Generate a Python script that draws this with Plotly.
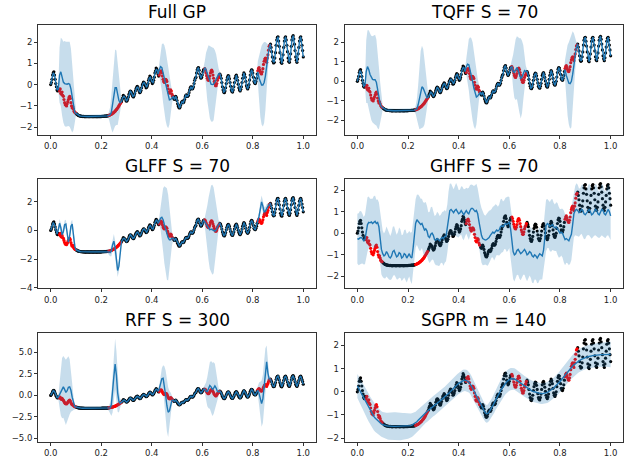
import plotly.graph_objects as go

# ---------------- x grid (0 .. 1, step 0.005) ----------------
X = [round(i * 0.005, 3) for i in range(201)]
# second set of observations, located half-way between grid points
X2 = [round(i * 0.005 + 0.0025, 4) for i in range(200)]

# ---------------- observations, split in segments ----------------
SEG_KIND = ["train", "test", "train", "test", "train", "test",
            "train", "test", "train", "test", "train"]

OBS_A = [0.00, 0.25, 0.55, 0.45, 0.05, -0.25, -0.20]
OBS_B = [-0.30, -0.40, -0.35, -0.55, -0.85, -0.95, -0.90, -0.70, -0.55, -0.85, -1.10, -1.15, -1.30]
OBS_C = [-1.35, -1.40, -1.45, -1.47, -1.48, -1.49, -1.49, -1.50, -1.50, -1.50, -1.50, -1.50, -1.50,
         -1.50, -1.50, -1.50, -1.50, -1.50, -1.50, -1.50, -1.50, -1.49, -1.49, -1.48, -1.48, -1.47]
OBS_D = [-1.45, -1.42, -1.40, -1.35, -1.30, -1.25, -1.18, -1.10, -1.00, -0.90]
OBS_E = [-0.80, -0.62, -0.55, -0.62, -0.78, -0.68, -0.45, -0.30, -0.38, -0.55,
         -0.52, -0.30, -0.15, -0.12, -0.30, -0.35, -0.15, 0.05, 0.10, -0.05,
         -0.12, 0.05, 0.30, 0.35, 0.15, 0.10, 0.35, 0.65, 0.72, 0.50]
OBS_F = [0.45, 0.62, 0.55, 0.25, 0.10, 0.25, 0.15, -0.20, -0.40, -0.25, -0.45]
OBS_G = [-0.55, -0.70, -0.55, -0.75, -1.00, -1.10, -0.95, -0.80, -0.85, -0.70,
         -0.50, -0.55, -0.50, -0.25, -0.10, -0.20, -0.10, 0.20, 0.35, 0.70,
         0.80, 0.50, 0.30, 0.45, 0.70]
OBS_H = [0.75, 0.55, 0.30, 0.20, 0.40, 0.65, 0.60, 0.30, 0.05, -0.05, 0.20, 0.35]
OBS_I = [0.50, 0.30, -0.10, -0.35, -0.30, 0.05, 0.35, 0.40, 0.10, -0.25,
         -0.35, -0.10, 0.30, 0.45, 0.20, -0.15, -0.30, -0.10, 0.30, 0.55,
         0.35, -0.05, -0.20, 0.00, 0.45, 0.70, 0.55, 0.15, 0.05, 0.30]
OBS_J = [0.65, 0.80, 0.60, 0.50, 0.75, 1.10, 1.25, 1.05, 1.40, 1.80]
OBS_K = [1.90, 1.55, 1.10, 1.05, 1.50, 2.10, 2.25, 1.80, 1.20, 1.00,
         1.40, 2.05, 2.25, 1.85, 1.25, 1.05, 1.45, 2.10, 2.30, 1.90,
         1.30, 1.05, 1.45, 2.05, 2.25, 1.85, 1.30]
OBS_SEGS = [OBS_A, OBS_B, OBS_C, OBS_D, OBS_E, OBS_F, OBS_G, OBS_H, OBS_I, OBS_J, OBS_K]

# second (interleaved) set of observations
OBS2_A = [0.10, 0.45, 0.60, 0.25, -0.10, -0.30, -0.22]
OBS2_B = [-0.20, -0.45, -0.50, -0.70, -0.95, -1.00, -0.80, -0.60, -0.65, -1.00, -1.05, -1.25, -1.32]
OBS2_C = [-1.38, -1.43, -1.46, -1.48, -1.49, -1.50, -1.50, -1.51, -1.50, -1.50, -1.51, -1.50, -1.50,
          -1.51, -1.50, -1.50, -1.51, -1.50, -1.50, -1.50, -1.49, -1.49, -1.48, -1.48, -1.47, -1.46]
OBS2_D = [-1.44, -1.41, -1.37, -1.33, -1.28, -1.21, -1.14, -1.05, -0.95, -0.85]
OBS2_E = [-0.70, -0.50, -0.58, -0.72, -0.75, -0.58, -0.35, -0.32, -0.48, -0.58,
          -0.42, -0.20, -0.08, -0.22, -0.38, -0.28, -0.02, 0.12, 0.02, -0.15,
          -0.05, 0.20, 0.40, 0.25, 0.05, 0.20, 0.55, 0.78, 0.62, 0.40]
OBS2_F = [0.58, 0.65, 0.40, 0.15, 0.18, 0.22, -0.05, -0.35, -0.35, -0.30, -0.55]
OBS2_G = [-0.65, -0.62, -0.62, -0.90, -1.08, -1.05, -0.85, -0.78, -0.80, -0.58,
          -0.48, -0.55, -0.38, -0.15, -0.12, -0.18, 0.05, 0.30, 0.55, 0.78,
          0.68, 0.38, 0.35, 0.60, 0.72]
OBS2_H = [0.68, 0.42, 0.22, 0.28, 0.55, 0.68, 0.45, 0.15, -0.05, 0.05, 0.30, 0.45]
OBS2_I = [0.42, 0.10, -0.25, -0.38, -0.15, 0.22, 0.42, 0.28, -0.08, -0.32,
          -0.25, 0.10, 0.40, 0.35, 0.02, -0.25, -0.22, 0.10, 0.45, 0.48,
          0.15, -0.15, -0.12, 0.22, 0.62, 0.68, 0.35, 0.08, 0.15, 0.50]
OBS2_J = [0.75, 0.70, 0.52, 0.60, 0.95, 1.20, 1.15, 1.25, 1.62, 1.85]
OBS2_K = [1.75, 1.30, 1.02, 1.25, 1.85, 2.22, 2.05, 1.50, 1.05, 1.15,
          1.75, 2.20, 2.10, 1.55, 1.10, 1.20, 1.80, 2.25, 2.15, 1.60,
          1.15, 1.20, 1.75, 2.20, 2.10, 1.60]
OBS2_SEGS = [OBS2_A, OBS2_B, OBS2_C, OBS2_D, OBS2_E, OBS2_F, OBS2_G, OBS2_H, OBS2_I, OBS2_J, OBS2_K]

# ---------------- Full GP ----------------
FULL_B = [0.45, 0.60, 0.35, 0.12, 0.05, 0.02, 0.02, 0.05, 0.02, -0.20, -0.65, -1.05, -1.30]
FULL_D = [-1.45, -1.42, -1.30, -0.95, -0.45, -0.15, -0.15, -0.45, -0.75, -0.85]
FULL_F = [0.70, 0.85, 0.80, 0.55, 0.25, -0.05, -0.35, -0.60, -0.72, -0.70, -0.60]
FULL_H = [0.80, 0.70, 0.50, 0.30, 0.12, 0.02, 0.00, 0.02, 0.12, 0.28, 0.42, 0.50]
FULL_J = [0.60, 0.30, 0.08, -0.02, -0.02, 0.10, 0.40, 0.85, 1.35, 1.75]
FULL_HW_TRAIN = 0.08
FULL_HW_B = [1.3, 1.6, 1.8, 1.9, 2.0, 2.0, 2.0, 2.0, 2.0, 1.9, 1.6, 1.1, 0.5]
FULL_HW_D = [0.15, 0.35, 0.8, 1.3, 1.65, 1.8, 1.75, 1.45, 0.95, 0.4]
FULL_HW_F = [0.3, 0.7, 1.1, 1.4, 1.6, 1.65, 1.6, 1.45, 1.15, 0.7, 0.3]
FULL_HW_H = [0.3, 0.8, 1.25, 1.55, 1.7, 1.75, 1.75, 1.7, 1.5, 1.15, 0.65, 0.25]
FULL_HW_J = [0.5, 1.1, 1.6, 1.85, 1.95, 1.9, 1.6, 1.1, 0.55, 0.2]

# ---------------- TQFF ----------------
TQ_B = [0.50, 0.75, 0.60, 0.35, 0.18, 0.10, 0.08, 0.08, -0.05, -0.40, -0.85, -1.15, -1.30]
TQ_D = [-1.45, -1.40, -1.20, -0.85, -0.45, -0.28, -0.35, -0.55, -0.75, -0.85]
TQ_F = [0.75, 0.88, 0.85, 0.60, 0.30, 0.00, -0.35, -0.65, -0.80, -0.75, -0.62]
TQ_H = [0.75, 0.50, 0.45, 0.60, 0.70, 0.55, 0.30, 0.15, 0.22, 0.45, 0.55, 0.50]
TQ_J = [0.60, 0.30, 0.05, -0.10, -0.12, 0.00, 0.35, 0.85, 1.35, 1.75]
TQ_HW_TRAIN = 0.10
TQ_HW_B = [1.6, 1.85, 2.0, 2.1, 2.15, 2.2, 2.25, 2.3, 2.2, 2.0, 1.6, 1.1, 0.5]
TQ_HW_D = [0.2, 0.5, 1.0, 1.6, 2.0, 2.1, 2.0, 1.65, 1.1, 0.5]
TQ_HW_F = [0.4, 0.9, 1.3, 1.65, 1.9, 2.0, 1.95, 1.8, 1.4, 0.9, 0.35]
TQ_HW_H = [0.35, 0.85, 1.3, 1.55, 1.6, 1.7, 1.9, 2.05, 1.85, 1.4, 0.8, 0.3]
TQ_HW_J = [0.5, 1.2, 1.8, 2.1, 2.3, 2.35, 2.2, 1.6, 0.8, 0.25]

# ---------------- GLFF ----------------
GL_A = [0.00, 0.30, 0.55, 0.40, 0.00, -0.25, 0.05]
GL_B = [0.50, 0.20, -0.30, -0.10, 0.40, 0.45, -0.20, -0.80, -0.40, 0.30, 0.45, -0.30, -1.10]
GL_D = [-1.50, -1.55, -1.45, -1.00, -0.75, -1.20, -2.10, -2.80, -2.50, -1.30]
GL_F = [0.65, 0.85, 0.92, 0.75, 0.40, 0.05, -0.25, -0.50, -0.65, -0.65, -0.55]
GL_H = [0.60, 0.45, 0.25, 0.10, 0.05, 0.10, 0.05, 0.00, -0.05, 0.05, 0.25, 0.40]
GL_J = [0.70, 1.00, 1.60, 2.00, 1.70, 1.30, 1.35, 1.60, 1.70, 1.80]
GL_HW_TRAIN = 0.12
GL_HW_B = [0.3, 0.3, 0.3, 0.3, 0.3, 0.3, 0.3, 0.3, 0.3, 0.3, 0.3, 0.25, 0.2]
GL_HW_D = [0.2, 0.25, 0.35, 0.45, 0.5, 0.5, 0.5, 0.45, 0.35, 0.2]
GL_HW_F = [0.3, 0.8, 1.5, 2.2, 2.7, 3.0, 3.2, 3.0, 2.3, 1.3, 0.5]
GL_HW_H = [0.3, 0.8, 1.5, 2.2, 2.75, 3.05, 3.15, 3.0, 2.5, 1.7, 0.9, 0.3]
GL_HW_J = [0.2, 0.3, 0.4, 0.45, 0.4, 0.35, 0.3, 0.25, 0.2, 0.15]

# ---------------- GHFF (full curves) ----------------
GH_MEAN = [
    -0.25, -0.28, -0.22, -0.20, -0.25, -0.35, -0.30, 0.05, 0.40, 0.50,
    0.48, 0.52, 0.45, 0.50, 0.55, 0.45, 0.50, 0.30, -0.20, -0.75,
    -0.95, -1.05, -1.00, -0.85, -0.95, -1.10, -1.15, -1.05, -0.85, -0.80,
    -0.95, -1.10, -1.05, -0.90, -0.95, -1.15, -1.10, -0.95, -1.00, -1.15,
    -1.05, -0.95, -1.10, -1.15, -0.70, -0.05, 0.45, 0.62, 0.55, 0.45,
    0.40, 0.45, 0.25, 0.15, 0.20, 0.10, -0.15, -0.20, -0.05, 0.00,
    -0.10, -0.30, -0.32, -0.25, -0.30, -0.35, -0.25, -0.20, -0.25, -0.15,
    -0.15, 0.20, 0.75, 1.05, 1.10, 1.00, 0.95, 1.05, 1.10, 1.00,
    0.90, 0.95, 1.05, 0.95, 0.85, 0.95, 1.05, 0.95, 0.90, 1.05,
    1.15, 1.15, 1.05, 1.00, 1.05, 0.90, 0.55, 0.20, -0.10, -0.25,
    -0.30, -0.32, -0.30, -0.25, -0.20, -0.10, 0.00, 0.05, 0.00, 0.10,
    0.15, 0.10, 0.15, 0.30, 0.35, 0.30, 0.40, 0.45, 0.40, 0.45,
    0.50, 0.20, -0.40, -0.85, -1.00, -0.95, -0.80, -0.75, -0.85, -0.95,
    -0.90, -0.80, -0.75, -0.85, -1.00, -0.95, -0.85, -0.90, -1.05, -1.10,
    -1.00, -1.05, -1.15, -1.05, -0.95, -1.00, -1.05, -0.80, -0.10, 0.35,
    0.45, 0.40, 0.30, 0.35, 0.40, 0.30, 0.25, 0.30, 0.20, 0.05,
    0.00, 0.05, 0.00, -0.15, -0.30, -0.25, -0.30, -0.35, -0.20, -0.05,
    0.40, 0.90, 1.05, 1.10, 1.05, 0.95, 1.00, 1.10, 1.05, 0.90,
    0.85, 0.95, 1.05, 1.10, 1.00, 0.85, 0.90, 1.00, 1.10, 1.05,
    0.90, 0.85, 0.95, 1.10, 1.05, 0.90, 0.85, 1.00, 1.10, 1.00,
    0.80]
GH_HW = [
    1.15, 1.20, 1.25, 1.22, 1.15, 1.10, 1.14, 1.22, 1.26, 1.20,
    1.12, 1.08, 1.14, 1.22, 1.18, 1.10, 1.06, 1.12, 1.20, 1.16,
    1.08, 1.04, 1.10, 1.16, 1.12, 1.05, 1.02, 1.08, 1.15, 1.12,
    1.06, 1.03, 1.09, 1.16, 1.12, 1.06, 1.04, 1.10, 1.17, 1.13,
    1.07, 1.05, 1.12, 1.20, 1.24, 1.18, 1.12, 1.16, 1.24, 1.26,
    1.20, 1.14, 1.18, 1.26, 1.24, 1.16, 1.12, 1.18, 1.25, 1.22,
    1.14, 1.10, 1.16, 1.24, 1.22, 1.15, 1.12, 1.18, 1.26, 1.22,
    1.15, 1.12, 1.18, 1.24, 1.20, 1.12, 1.08, 1.14, 1.22, 1.18,
    1.10, 1.06, 1.12, 1.20, 1.18, 1.10, 1.06, 1.12, 1.20, 1.18,
    1.10, 1.08, 1.14, 1.22, 1.24, 1.18, 1.14, 1.20, 1.27, 1.24,
    1.17, 1.13, 1.19, 1.26, 1.24, 1.16, 1.12, 1.18, 1.26, 1.24,
    1.16, 1.12, 1.18, 1.26, 1.24, 1.17, 1.13, 1.19, 1.27, 1.25,
    1.18, 1.14, 1.20, 1.27, 1.24, 1.17, 1.13, 1.19, 1.26, 1.23,
    1.16, 1.12, 1.18, 1.25, 1.22, 1.15, 1.11, 1.17, 1.24, 1.22,
    1.15, 1.11, 1.17, 1.24, 1.21, 1.14, 1.10, 1.15, 1.22, 1.20,
    1.13, 1.09, 1.14, 1.21, 1.18, 1.11, 1.08, 1.13, 1.20, 1.18,
    1.11, 1.08, 1.13, 1.20, 1.18, 1.12, 1.09, 1.14, 1.21, 1.19,
    1.12, 1.09, 1.14, 1.21, 1.19, 1.12, 1.08, 1.13, 1.20, 1.18,
    1.11, 1.08, 1.13, 1.20, 1.18, 1.11, 1.07, 1.12, 1.19, 1.17,
    1.10, 1.07, 1.12, 1.19, 1.17, 1.10, 1.07, 1.12, 1.19, 1.17,
    1.12]

# ---------------- RFF ----------------
RF_B = [0.10, 0.45, 0.85, 1.00, 0.70, 0.35, 0.55, 0.95, 1.00, 0.60, -0.20, -0.90, -1.30]
RF_D = [-1.50, -1.45, -1.10, 0.20, 2.20, 3.65, 2.40, 0.30, -0.70, -0.90]
RF_F = [0.80, 1.40, 1.95, 2.00, 1.20, 0.00, -1.20, -1.95, -1.80, -1.10, -0.55]
RF_H = [0.75, 0.50, 0.45, 0.80, 1.15, 1.00, 0.70, 0.85, 1.10, 0.85, 0.45, 0.40]
RF_J = [0.60, 0.20, -0.50, -0.95, -0.40, 1.00, 2.90, 3.90, 2.60, 1.90]
RF_HW_TRAIN = 0.20
RF_HW_B = [1.5, 2.8, 3.5, 3.6, 3.7, 3.8, 3.8, 3.6, 3.2, 2.5, 1.6, 0.8, 0.3]
RF_HW_D = [0.3, 0.6, 1.3, 2.2, 2.8, 2.95, 2.8, 2.2, 1.3, 0.5]
RF_HW_F = [0.4, 1.0, 1.2, 1.5, 2.2, 2.9, 3.0, 2.9, 2.3, 1.4, 0.5]
RF_HW_H = [0.4, 1.0, 1.7, 2.3, 2.7, 3.0, 3.1, 3.0, 2.6, 1.9, 1.0, 0.4]
RF_HW_J = [0.5, 1.3, 2.1, 2.7, 2.8, 2.7, 2.6, 1.9, 1.1, 0.4]

# ---------------- SGPR (full curves) ----------------
SG_MEAN = [
    0.25, 0.15, 0.05, -0.05, -0.15, -0.25, -0.36, -0.47, -0.58, -0.69,
    -0.80, -0.89, -0.98, -1.06, -1.13, -1.19, -1.25, -1.30, -1.35, -1.39,
    -1.42, -1.44, -1.46, -1.47, -1.48, -1.48, -1.49, -1.49, -1.49, -1.49,
    -1.49, -1.49, -1.49, -1.49, -1.49, -1.49, -1.49, -1.49, -1.49, -1.48,
    -1.48, -1.47, -1.46, -1.44, -1.41, -1.38, -1.34, -1.29, -1.23, -1.17,
    -1.11, -1.05, -0.99, -0.94, -0.89, -0.85, -0.80, -0.76, -0.71, -0.66,
    -0.62, -0.58, -0.54, -0.50, -0.46, -0.41, -0.36, -0.32, -0.27, -0.22,
    -0.17, -0.12, -0.07, -0.01, 0.05, 0.10, 0.16, 0.21, 0.26, 0.31,
    0.36, 0.40, 0.44, 0.47, 0.49, 0.50, 0.49, 0.46, 0.42, 0.35,
    0.26, 0.15, 0.04, -0.08, -0.19, -0.30, -0.41, -0.52, -0.63, -0.74,
    -0.84, -0.91, -0.95, -0.93, -0.87, -0.79, -0.70, -0.60, -0.49, -0.37,
    -0.26, -0.15, -0.05, 0.04, 0.13, 0.22, 0.30, 0.37, 0.43, 0.48,
    0.52, 0.55, 0.56, 0.56, 0.55, 0.52, 0.48, 0.44, 0.40, 0.35,
    0.31, 0.27, 0.23, 0.19, 0.15, 0.12, 0.09, 0.06, 0.03, 0.01,
    -0.01, -0.03, -0.05, -0.06, -0.07, -0.08, -0.08, -0.08, -0.07, -0.05,
    -0.03, 0.00, 0.04, 0.08, 0.12, 0.16, 0.21, 0.26, 0.31, 0.37,
    0.44, 0.51, 0.58, 0.65, 0.72, 0.79, 0.86, 0.93, 0.99, 1.05,
    1.11, 1.16, 1.21, 1.26, 1.30, 1.34, 1.37, 1.40, 1.43, 1.45,
    1.47, 1.49, 1.51, 1.53, 1.54, 1.55, 1.56, 1.57, 1.58, 1.58,
    1.59, 1.59, 1.60, 1.60, 1.60, 1.60, 1.61, 1.61, 1.61, 1.61,
    1.61]
SG_HW = [
    0.52, 0.53, 0.54, 0.55, 0.56, 0.57, 0.58, 0.59, 0.60, 0.60,
    0.60, 0.60, 0.60, 0.60, 0.59, 0.58, 0.57, 0.56, 0.55, 0.55,
    0.55, 0.55, 0.56, 0.57, 0.58, 0.59, 0.60, 0.60, 0.61, 0.61,
    0.61, 0.61, 0.61, 0.60, 0.60, 0.59, 0.58, 0.57, 0.56, 0.55,
    0.54, 0.53, 0.52, 0.51, 0.50, 0.49, 0.48, 0.48, 0.47, 0.47,
    0.46, 0.46, 0.45, 0.45, 0.45, 0.45, 0.44, 0.44, 0.44, 0.44,
    0.44, 0.44, 0.44, 0.44, 0.44, 0.44, 0.44, 0.44, 0.44, 0.44,
    0.44, 0.44, 0.44, 0.44, 0.44, 0.44, 0.45, 0.45, 0.45, 0.46,
    0.46, 0.46, 0.47, 0.47, 0.47, 0.47, 0.46, 0.46, 0.45, 0.44,
    0.43, 0.42, 0.41, 0.40, 0.40, 0.39, 0.39, 0.38, 0.38, 0.38,
    0.38, 0.38, 0.38, 0.38, 0.39, 0.39, 0.40, 0.41, 0.42, 0.43,
    0.44, 0.45, 0.46, 0.47, 0.47, 0.48, 0.48, 0.48, 0.48, 0.48,
    0.48, 0.48, 0.47, 0.47, 0.46, 0.46, 0.45, 0.45, 0.45, 0.45,
    0.45, 0.45, 0.45, 0.45, 0.45, 0.45, 0.45, 0.45, 0.45, 0.45,
    0.45, 0.45, 0.45, 0.45, 0.45, 0.45, 0.45, 0.45, 0.45, 0.45,
    0.45, 0.45, 0.45, 0.45, 0.45, 0.45, 0.45, 0.46, 0.46, 0.46,
    0.47, 0.47, 0.47, 0.48, 0.48, 0.48, 0.49, 0.49, 0.49, 0.50,
    0.50, 0.50, 0.50, 0.50, 0.50, 0.50, 0.50, 0.50, 0.50, 0.50,
    0.50, 0.50, 0.50, 0.50, 0.50, 0.50, 0.50, 0.50, 0.51, 0.51,
    0.51, 0.51, 0.52, 0.52, 0.52, 0.53, 0.53, 0.53, 0.54, 0.54,
    0.55]

# ---------------- titles / ticks ----------------
TITLES = ["Full GP", "TQFF S = 70", "GLFF S = 70", "GHFF S = 70", "RFF S = 300", "SGPR m = 140"]
X_TICKS = [0.0, 0.2, 0.4, 0.6, 0.8, 1.0]
X_TICK_LABELS = ["0.0", "0.2", "0.4", "0.6", "0.8", "1.0"]
Y_TICKS_STD = [-2, -1, 0, 1, 2]
Y_TICK_LABELS_STD = ["\u22122", "\u22121", "0", "1", "2"]
Y_TICKS_GL = [-4, -2, 0, 2]
Y_TICK_LABELS_GL = ["\u22124", "\u22122", "0", "2"]
Y_TICKS_RF = [-5.0, -2.5, 0.0, 2.5, 5.0]
Y_TICK_LABELS_RF = ["\u22125.0", "\u22122.5", "0.0", "2.5", "5.0"]


def cat(parts):
    out = []
    for p in parts:
        out.extend(p)
    return out


def build(test_parts, train_parts=None):
    """interleave train segments (observations) with the panel's test-region values"""
    parts = []
    ti = 0
    for k, seg in zip(SEG_KIND, OBS_SEGS):
        if k == "train":
            parts.append(seg if train_parts is None else train_parts(seg))
        else:
            parts.append(test_parts[ti])
            ti += 1
    return cat(parts)


def hw_build(const, test_parts):
    return build(test_parts, lambda seg: [const] * len(seg))


FULL_MEAN = build([FULL_B, FULL_D, FULL_F, FULL_H, FULL_J])
FULL_HW = hw_build(FULL_HW_TRAIN, [FULL_HW_B, FULL_HW_D, FULL_HW_F, FULL_HW_H, FULL_HW_J])
TQ_MEAN = build([TQ_B, TQ_D, TQ_F, TQ_H, TQ_J])
TQ_HW = hw_build(TQ_HW_TRAIN, [TQ_HW_B, TQ_HW_D, TQ_HW_F, TQ_HW_H, TQ_HW_J])
GL_MEAN = GL_A + build([GL_B, GL_D, GL_F, GL_H, GL_J])[len(GL_A):]
GL_HW = hw_build(GL_HW_TRAIN, [GL_HW_B, GL_HW_D, GL_HW_F, GL_HW_H, GL_HW_J])
RF_MEAN = build([RF_B, RF_D, RF_F, RF_H, RF_J])
RF_HW = hw_build(RF_HW_TRAIN, [RF_HW_B, RF_HW_D, RF_HW_F, RF_HW_H, RF_HW_J])

OBS_Y = cat(OBS_SEGS)
IS_TEST = cat([[k == "test"] * len(s) for k, s in zip(SEG_KIND, OBS_SEGS)])
OBS2_Y = cat(OBS2_SEGS)
IS_TEST2 = cat([[k == "test"] * len(s) for k, s in zip(SEG_KIND, OBS2_SEGS)])

for arr in (OBS_Y, FULL_MEAN, FULL_HW, TQ_MEAN, TQ_HW, GL_MEAN, GL_HW, GH_MEAN, GH_HW,
            RF_MEAN, RF_HW, SG_MEAN, SG_HW):
    assert len(arr) == len(X), len(arr)
assert len(OBS2_Y) == len(X2), len(OBS2_Y)

ALL_X = X + X2
ALL_Y = OBS_Y + OBS2_Y
ALL_T = IS_TEST + IS_TEST2
X_TR = [x for x, t in zip(ALL_X, ALL_T) if not t]
Y_TR = [y for y, t in zip(ALL_Y, ALL_T) if not t]
X_TE = [x for x, t in zip(ALL_X, ALL_T) if t]
Y_TE = [y for y, t in zip(ALL_Y, ALL_T) if t]

PANELS = [
    dict(mean=FULL_MEAN, hw=FULL_HW, yr=[-2.36, 2.79], yt=Y_TICKS_STD, yl=Y_TICK_LABELS_STD),
    dict(mean=TQ_MEAN, hw=TQ_HW, yr=[-2.73, 2.86], yt=Y_TICKS_STD, yl=Y_TICK_LABELS_STD),
    dict(mean=GL_MEAN, hw=GL_HW, yr=[-4.06, 3.57], yt=Y_TICKS_GL, yl=Y_TICK_LABELS_GL),
    dict(mean=GH_MEAN, hw=GH_HW, yr=[-2.56, 2.49], yt=Y_TICKS_STD, yl=Y_TICK_LABELS_STD),
    dict(mean=RF_MEAN, hw=RF_HW, yr=[-5.44, 7.26], yt=Y_TICKS_RF, yl=Y_TICK_LABELS_RF),
    dict(mean=SG_MEAN, hw=SG_HW, yr=[-2.17, 2.53], yt=Y_TICKS_STD, yl=Y_TICK_LABELS_STD),
]

W, H = 626, 460
COL_X = [(38.1, 315.9), (344.7, 623.3)]
ROW_Y = [(25.5, 136.0), (181.0, 291.0), (336.0, 446.0)]

FONT = "DejaVu Sans, Liberation Sans, sans-serif"
BLUE = "#1f77b4"
BAND = "rgba(31,119,180,0.25)"

fig = go.Figure()
layout = dict(width=W, height=H, margin=dict(l=0, r=0, t=0, b=0),
              paper_bgcolor="white", plot_bgcolor="white", showlegend=False,
              font=dict(family=FONT, color="#222"), annotations=[])

for k, p in enumerate(PANELS):
    r, c = divmod(k, 2)
    xa = "x" if k == 0 else f"x{k + 1}"
    ya = "y" if k == 0 else f"y{k + 1}"
    upper = [m + h for m, h in zip(p["mean"], p["hw"])]
    lower = [m - h for m, h in zip(p["mean"], p["hw"])]

    fig.add_trace(go.Scatter(x=X_TR, y=Y_TR, mode="markers", xaxis=xa, yaxis=ya,
                             marker=dict(color="black", size=3.2), hoverinfo="skip"))
    fig.add_trace(go.Scatter(x=X_TE, y=Y_TE, mode="markers", xaxis=xa, yaxis=ya,
                             marker=dict(color="#ff0000", size=3.2), hoverinfo="skip"))
    fig.add_trace(go.Scatter(x=X + X[::-1], y=upper + lower[::-1], mode="lines",
                             fill="toself", fillcolor=BAND, line=dict(width=0),
                             xaxis=xa, yaxis=ya, hoverinfo="skip"))
    fig.add_trace(go.Scatter(x=X, y=p["mean"], mode="lines", xaxis=xa, yaxis=ya,
                             line=dict(color=BLUE, width=1.4), hoverinfo="skip"))

    x0, x1 = COL_X[c]
    y0, y1 = ROW_Y[r]
    ax_common = dict(showgrid=False, zeroline=False, showline=True, mirror=True,
                     linecolor="#333", linewidth=1, ticks="outside", ticklen=3,
                     tickwidth=1, tickcolor="#333",
                     tickfont=dict(family=FONT, size=8.5, color="#222"))
    layout["xaxis" if k == 0 else f"xaxis{k + 1}"] = dict(
        domain=[x0 / W, x1 / W], range=[-0.05, 1.05], anchor=ya,
        tickvals=X_TICKS, ticktext=X_TICK_LABELS, **ax_common)
    layout["yaxis" if k == 0 else f"yaxis{k + 1}"] = dict(
        domain=[1 - y1 / H, 1 - y0 / H], range=p["yr"], anchor=xa,
        tickvals=p["yt"], ticktext=p["yl"], **ax_common)
    layout["annotations"].append(dict(
        text=TITLES[k], x=(x0 + x1) / 2 / W, y=1 - y0 / H, xref="paper", yref="paper",
        xanchor="center", yanchor="bottom", yshift=1, showarrow=False,
        font=dict(family=FONT, size=17, color="black")))

fig.update_layout(**layout)
fig.write_html(
    "out.html",
    config={"displayModeBar": False, "staticPlot": True},
    post_script="document.body.style.margin='0';document.body.style.overflow='hidden';",
)
